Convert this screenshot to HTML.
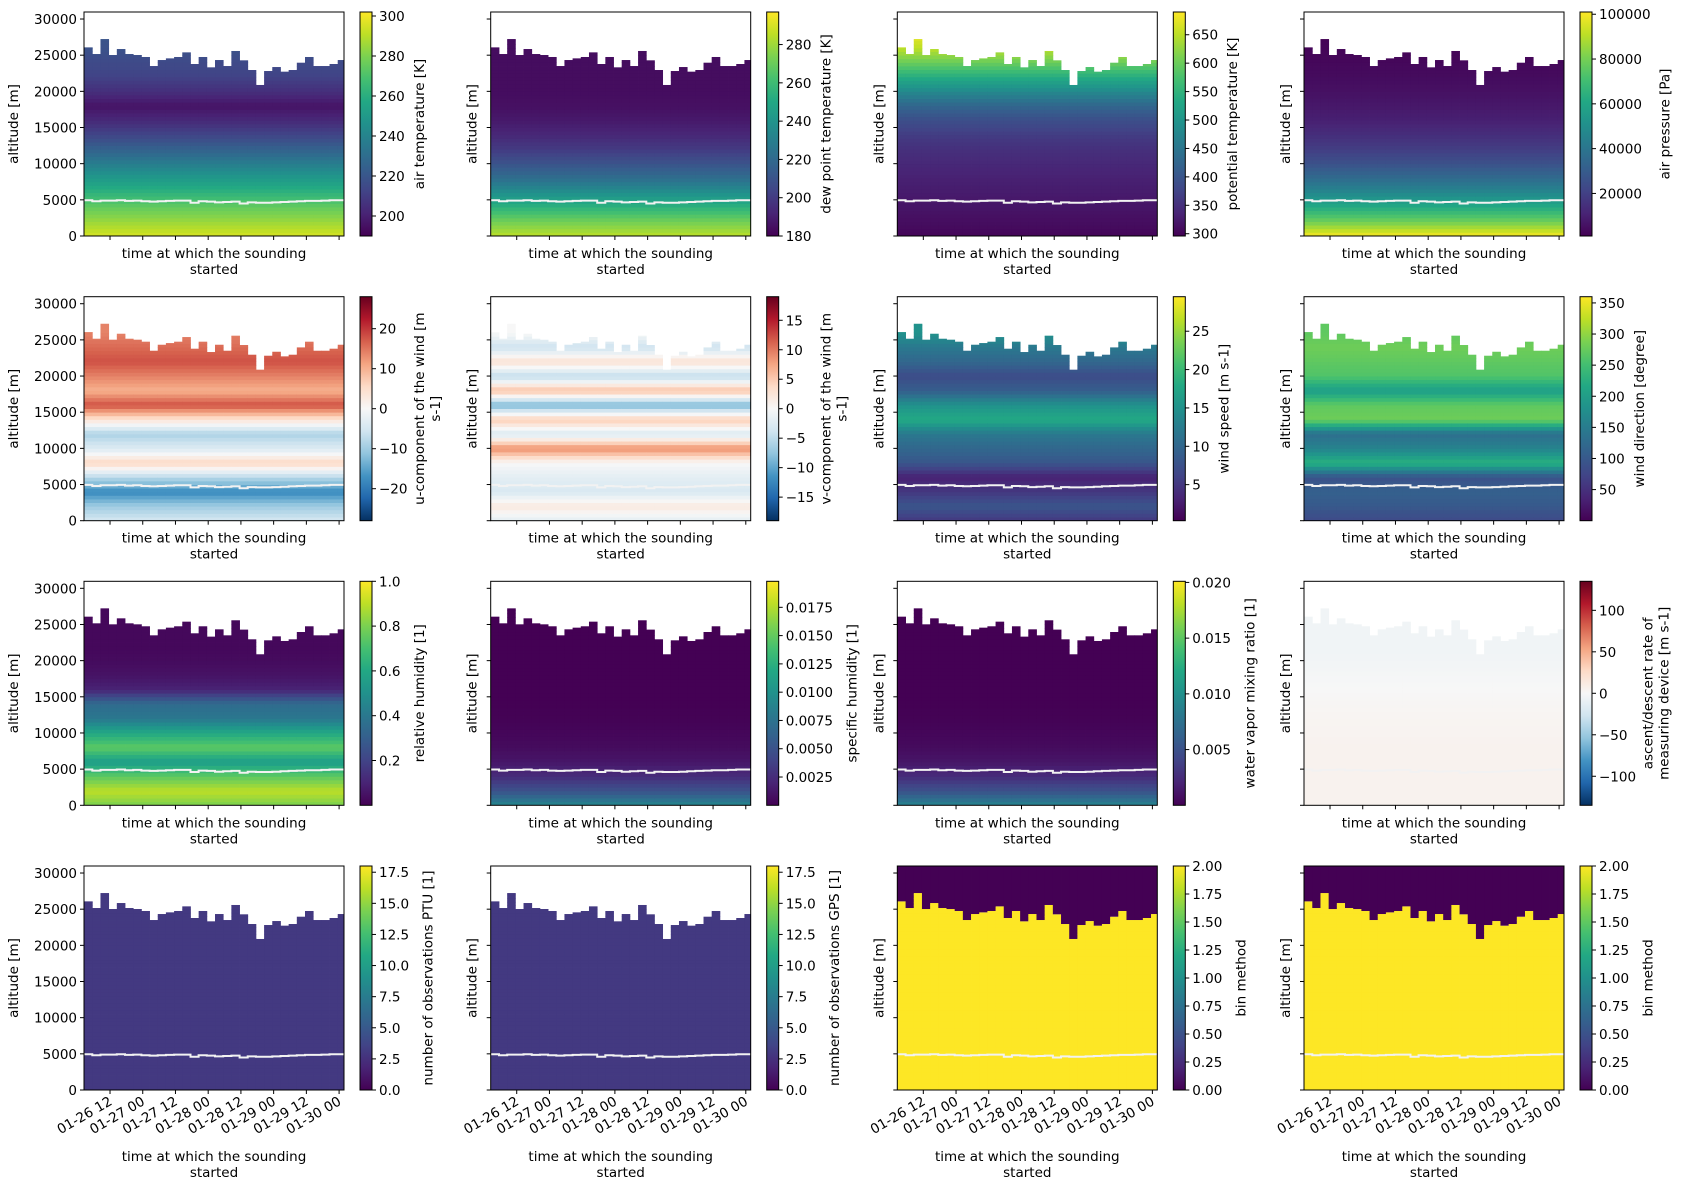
<!DOCTYPE html>
<html><head><meta charset="utf-8"><style>
body{margin:0;background:#fff}
svg{display:block;font-family:"DejaVu Sans","Liberation Sans",sans-serif;font-size:13.5px}
</style></head><body>
<svg id="fig" width="1685" height="1189" xmlns="http://www.w3.org/2000/svg"></svg>
<script>
// ---- data ----
const launchTimes=[2.5,5.5,8.5,11.5,14.5,17.5,20.5,23.5,26.5,29.5,32.5,35.5,38.5,41.5,44.5,47.5,50.5,53.5,56.5,59.5,62.5,65.5,68.5,71.5,74.5,77.5,80.5,83.5,86.5,89.5,92.5,95.5];
const soundingTops=[26080,25160,27230,25020,25850,25160,25020,24750,23500,24330,24560,24750,25390,23780,24750,23320,24330,23500,25580,24290,22950,20880,22810,23360,22720,22950,23960,24750,23500,23500,23780,24330];
const freezingLevel=[4950,4800,4900,4900,4950,4850,4900,4800,4750,4800,4850,4900,4900,4600,4800,4750,4650,4700,4750,4500,4650,4600,4600,4650,4700,4750,4800,4850,4850,4900,4950,4950];
const levels=[0,2000,4000,6000,8000,10000,12000,14000,16000,18000,20000,22000,24000,26000,28000];
const airTemp=[295,285,275,262,250,237,225,213,203,196,205,212,215,218,220];
const dewPoint=[285,272,255,238,222,210,200,193,188,185,184,184,184,184,184];
const potTemp=[302,310,318,325,332,340,350,365,390,425,480,540,600,650,680];
const airPressure=[100000,79000,62000,47000,36000,26000,19000,14000,10000,7500,5500,4000,2900,2100,1500];
const uWind=[-5,-10,-18,-8,6,-4,-9,4,18,10,14,18,16,14,14];
const vWind=[-2,2,-3,-2,0,9,-3,5,-9,6,-5,3,-4,0,0];
const windSpeed=[5,8,5,3,8,10,12,18,15,9,7,10,12,15,15];
const windDir=[80,100,110,90,230,160,130,280,270,200,260,270,280,270,270];
const relHum=[0.8,0.9,0.75,0.55,0.75,0.6,0.4,0.35,0.1,0.05,0.03,0.02,0.02,0.02,0.02];
const specHum=[0.009,0.005,0.0025,0.0012,0.0006,0.0003,0.0001,0,0,0,0,0,0,0,0];
const mixRatio=[0.009,0.005,0.0025,0.0012,0.0006,0.0003,0.0001,0,0,0,0,0,0,0,0];
const ascentRate=[5,5,5,5,5,4,3,2,0,-2,-4,-5,-5,-5,-5];
const obsPTU=[3,3,3,3,3,3,3,3,3,3,3,3,3,3,3];
const obsGPS=[3,3,3,3,3,3,3,3,3,3,3,3,3,3,3];
const binMethod=[2,2,2,2,2,2,2,2,2,2,2,2,2,2,2];
const timeTicks=[12,24,36,48,60,72,84,96];
const timeTickLabels=["01-26 12","01-27 00","01-27 12","01-28 00","01-28 12","01-29 00","01-29 12","01-30 00"];
const altTicks=[0,5000,10000,15000,20000,25000,30000];

const VIR=["#440154","#482475","#414487","#355f8d","#2a788e","#21918c","#22a884","#44bf70","#7ad151","#bddf26","#fde725"];
const RDB=["#053061","#2166ac","#4393c3","#92c5de","#d1e5f0","#f7f7f7","#fddbc7","#f4a582","#d6604d","#b2182b","#67001f"];
function hex(c){return [1,3,5].map(i=>parseInt(c.substr(i,2),16));}
function cmapColor(cm,f){f=Math.max(0,Math.min(1,f));const s=f*(cm.length-1);const i=Math.min(cm.length-2,Math.floor(s));const t=s-i;const a=hex(cm[i]),b=hex(cm[i+1]);return `rgb(${a.map((v,k)=>Math.round(v+(b[k]-v)*t)).join(',')})`;}

const panels=[
 {name:"air-temperature",data:airTemp,cm:VIR,vmin:190,vmax:302,ticks:[200,220,240,260,280,300],fmt:v=>v,label:["air temperature [K]"]},
 {name:"dew-point",data:dewPoint,cm:VIR,vmin:180,vmax:297,ticks:[180,200,220,240,260,280],fmt:v=>v,label:["dew point temperature [K]"]},
 {name:"potential-temperature",data:potTemp,cm:VIR,vmin:296,vmax:690,ticks:[300,350,400,450,500,550,600,650],fmt:v=>v,label:["potential temperature [K]"]},
 {name:"air-pressure",data:airPressure,cm:VIR,vmin:1000,vmax:101000,ticks:[20000,40000,60000,80000,100000],fmt:v=>v,label:["air pressure [Pa]"]},
 {name:"u-wind",data:uWind,cm:RDB,vmin:-28,vmax:28,ticks:[-20,-10,0,10,20],fmt:v=>String(v).replace('-','\u2212'),label:["u-component of the wind [m","s-1]"]},
 {name:"v-wind",data:vWind,cm:RDB,vmin:-19,vmax:19,ticks:[-15,-10,-5,0,5,10,15],fmt:v=>String(v).replace('-','\u2212'),label:["v-component of the wind [m","s-1]"]},
 {name:"wind-speed",data:windSpeed,cm:VIR,vmin:0.3,vmax:29.5,ticks:[5,10,15,20,25],fmt:v=>v,label:["wind speed [m s-1]"]},
 {name:"wind-direction",data:windDir,cm:VIR,vmin:0,vmax:360,ticks:[50,100,150,200,250,300,350],fmt:v=>v,label:["wind direction [degree]"]},
 {name:"relative-humidity",data:relHum,cm:VIR,vmin:0,vmax:1,ticks:[0.2,0.4,0.6,0.8,1.0],fmt:v=>v.toFixed(1),label:["relative humidity [1]"]},
 {name:"specific-humidity",data:specHum,cm:VIR,vmin:0,vmax:0.0198,ticks:[0.0025,0.005,0.0075,0.01,0.0125,0.015,0.0175],fmt:v=>v.toFixed(4),label:["specific humidity [1]"]},
 {name:"mixing-ratio",data:mixRatio,cm:VIR,vmin:0,vmax:0.0201,ticks:[0.005,0.01,0.015,0.02],fmt:v=>v.toFixed(3),label:["water vapor mixing ratio [1]"]},
 {name:"ascent-rate",data:ascentRate,cm:RDB,vmin:-135,vmax:135,ticks:[-100,-50,0,50,100],fmt:v=>String(v).replace('-','\u2212'),label:["ascent/descent rate of","measuring device [m s-1]"]},
 {name:"obs-ptu",data:obsPTU,cm:VIR,vmin:0,vmax:18,ticks:[0,2.5,5,7.5,10,12.5,15,17.5],fmt:v=>v.toFixed(1),label:["number of observations PTU [1]"]},
 {name:"obs-gps",data:obsGPS,cm:VIR,vmin:0,vmax:18,ticks:[0,2.5,5,7.5,10,12.5,15,17.5],fmt:v=>v.toFixed(1),label:["number of observations GPS [1]"]},
 {name:"bin-method-1",data:binMethod,cm:VIR,vmin:0,vmax:2,ticks:[0,0.25,0.5,0.75,1,1.25,1.5,1.75,2],fmt:v=>v.toFixed(2),label:["bin method"],fillAbove:0},
 {name:"bin-method-2",data:binMethod,cm:VIR,vmin:0,vmax:2,ticks:[0,0.25,0.5,0.75,1,1.25,1.5,1.75,2],fmt:v=>v.toFixed(2),label:["bin method"],fillAbove:0}
];

const NS="http://www.w3.org/2000/svg";
const svg=document.getElementById('fig');
function el(tag,attrs,parent){const e=document.createElementNS(NS,tag);for(const k in attrs)e.setAttribute(k,attrs[k]);(parent||svg).appendChild(e);return e;}
const colX=[84,490.7,897.3,1304],rowY=[12,296.7,581.3,866],PW=260,PH=224;
const T0=2.46,T1=97.8,YMAX=30970;
function interp(arr,alt){const s=alt/2000;const i=Math.min(levels.length-2,Math.floor(s));const t=s-i;return arr[i]+(arr[i+1]-arr[i])*t;}

panels.forEach((p,k)=>{
 const r=Math.floor(k/4),c=k%4,X=colX[c],Y=rowY[r];
 const xs=t=>X+(t-T0)/(T1-T0)*PW;
 const ys=a=>Y+PH-a/YMAX*PH;
 const g=el('g',{});
 
 
 const clipId='clip'+k;
 const cp=el('clipPath',{id:clipId},g);el('rect',{x:X,y:Y,width:PW,height:PH},cp);
 const hm=el('g',{'clip-path':`url(#${clipId})`},g);
 
 
 launchTimes.forEach((t,i)=>{
  const x0=xs(t),x1=i<launchTimes.length-1?xs(launchTimes[i+1]):X+PW;
  const top=soundingTops[i];
  for(let a=0;a<top;a+=500){
   const a1=Math.min(a+500,top);
   const v=interp(p.data,a+250);
   const rc=el('rect',{x:x0.toFixed(2),y:ys(a1).toFixed(2),width:(x1-x0+0.4).toFixed(2),height:(ys(a)-ys(a1)+0.4).toFixed(2),fill:cmapColor(p.cm,(v-p.vmin)/(p.vmax-p.vmin))},hm);
   
   
  }
  if(p.fillAbove!==undefined){
   const rc=el('rect',{x:x0.toFixed(2),y:Y,width:(x1-x0+0.4).toFixed(2),height:(ys(top)-Y).toFixed(2),fill:cmapColor(p.cm,(p.fillAbove-p.vmin)/(p.vmax-p.vmin))},hm);
   
   
  }
 });
 let d='';launchTimes.forEach((t,i)=>{const x0=xs(t),x1=i<launchTimes.length-1?xs(launchTimes[i+1]):X+PW;d+=(i?'L':'M')+x0.toFixed(1)+','+ys(freezingLevel[i]).toFixed(1)+'L'+x1.toFixed(1)+','+ys(freezingLevel[i]).toFixed(1);});
 const fl=el('path',{d,stroke:'#f2f2f2','stroke-width':2,fill:'none'},hm);
 
 
 const fr=el('rect',{x:X,y:Y,width:PW,height:PH,fill:'none',stroke:'#000','stroke-width':1},g);
 
 
 altTicks.forEach(a=>{
  const yy=ys(a);
  el('line',{x1:X-4,x2:X,y1:yy,y2:yy,stroke:'#000'},g);
  if(c===0){const tx=el('text',{x:X-7,y:yy+5,'text-anchor':'end',fill:'#000'},g);tx.textContent=a;
   }
 });
 const yl=el('text',{x:0,y:0,'text-anchor':'middle',fill:'#000',transform:`translate(${c===0?X-66:X-14},${Y+PH/2}) rotate(-90)`},g);
 yl.textContent='altitude [m]';
 
 
 timeTicks.forEach((t,i)=>{
  const xx=xs(t);
  el('line',{x1:xx,x2:xx,y1:Y+PH,y2:Y+PH+4,stroke:'#000'},g);
  if(r===3){const tx=el('text',{x:0,y:0,'text-anchor':'end',fill:'#000',transform:`translate(${xx+3},${Y+PH+14}) rotate(-30)`},g);tx.textContent=timeTickLabels[i];
   }
 });
 const xlY=r===3?Y+PH+71:Y+PH+22;
 ['time at which the sounding','started'].forEach((s,j)=>{const tx=el('text',{x:X+PW/2,y:xlY+j*16,'text-anchor':'middle',fill:'#000'},g);tx.textContent=s;
  });
 const CX=X+276,CW=12;
 const gid='grad'+k;const lg=el('linearGradient',{id:gid,x1:0,y1:1,x2:0,y2:0},g);
 p.cm.forEach((col,i)=>el('stop',{offset:i/(p.cm.length-1),'stop-color':col},lg));
 const cb=el('rect',{x:CX,y:Y,width:CW,height:PH,fill:`url(#${gid})`,stroke:'#000','stroke-width':1},g);
 
 
 p.ticks.forEach(v=>{
  const yy=Y+PH-(v-p.vmin)/(p.vmax-p.vmin)*PH;
  el('line',{x1:CX+CW,x2:CX+CW+4,y1:yy,y2:yy,stroke:'#000'},g);
  const tx=el('text',{x:CX+CW+7,y:yy+5,fill:'#000'},g);tx.textContent=p.fmt(v);
  
 });
 const maxLen=Math.max(...p.ticks.map(v=>String(p.fmt(v)).length));
 const lx=CX+CW+12+maxLen*8.6+4;
 p.label.forEach((s,j)=>{
  const tx=el('text',{x:0,y:0,'text-anchor':'middle',fill:'#000',transform:`translate(${lx+10+j*16},${Y+PH/2}) rotate(-90)`},g);
  tx.textContent=s;
  
 });
});
</script>
</body></html>
